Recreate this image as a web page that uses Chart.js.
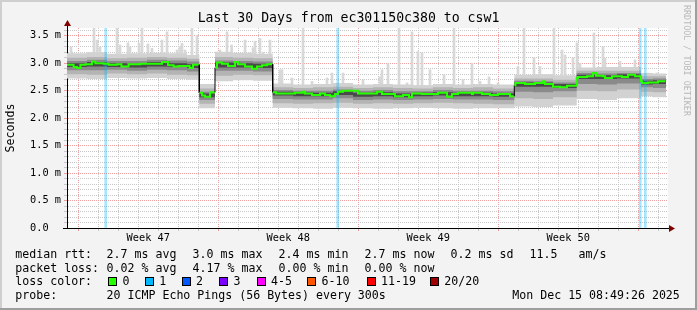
<!DOCTYPE html>
<html><head><meta charset="utf-8">
<script src="https://cdn.jsdelivr.net/npm/chart.js@4.4.1/dist/chart.umd.min.js"></script>
<style>
html,body{margin:0;padding:0;background:#f3f3f3;}
#wrap{position:relative;width:697px;height:310px;overflow:hidden;background:#f3f3f3;}
canvas{position:absolute;left:0;top:0;}
.t{position:absolute;font-family:'DejaVu Sans Mono',monospace;white-space:pre;color:#000;line-height:14px;font-size:11.6px;}
.sq{position:absolute;width:7px;height:7px;border:1px solid #000;}
#title{position:absolute;left:0;top:10px;width:697px;text-align:center;font-family:'DejaVu Sans Mono',monospace;font-size:13.2px;line-height:16px;white-space:pre;}
#wm{position:absolute;left:682px;top:5px;writing-mode:vertical-rl;font-family:'DejaVu Sans Mono',monospace;font-size:8.4px;line-height:10px;color:#b8b8b8;white-space:pre;}
</style></head><body>
<div id="wrap"><canvas id="c" width="697" height="310"></canvas>
<div id="title">Last 30 Days from ec301150c380 to csw1</div>
<div id="wm">RRDTOOL / TOBI OETIKER</div>
</div>
<script>
// ---- data (days since start of the 30-day window, values in ms) ----
const medX = [0,0.33,0.5,0.67,0.92,1.25,1.42,1.83,2.08,2.5,2.72,3.08,3.67,4.75,5.05,5.33,5.58,6.13,6.3,
  6.615,6.75,6.9,7.15,
  7.4,7.5,7.75,8.05,8.4,8.55,8.9,9.25,9.5,9.75,10.0,
  10.285,10.45,11.4,11.8,11.9,12.25,12.65,12.9,13.15,13.4,13.55,13.8,14.55,15.5,15.75,16.4,16.8,17.1,17.25,17.75,18.55,19.0,19.25,19.55,20.25,20.3,20.75,21.15,21.55,22.15,
  22.365,22.42,22.9,23.4,23.8,23.9,24.3,24.65,25.0,
  25.485,25.55,26.0,26.3,26.45,26.8,26.9,27.25,27.75,28.05,28.4,
  28.7,28.75,29.05,29.55];
const medV = [2.97,2.93,2.91,2.97,2.98,3.03,3.00,2.99,2.97,2.98,2.94,2.98,2.99,3.02,2.96,2.94,2.95,2.91,2.97,
  2.46,2.41,2.39,2.47,
  2.92,3.01,2.99,2.95,3.02,2.98,2.94,2.90,2.94,2.96,2.98,
  2.47,2.45,2.46,2.48,2.45,2.42,2.45,2.42,2.40,2.44,2.48,2.50,2.45,2.48,2.44,2.40,2.42,2.38,2.45,2.44,2.46,2.39,2.44,2.46,2.44,2.46,2.44,2.42,2.44,2.40,
  2.60,2.64,2.62,2.64,2.67,2.62,2.57,2.56,2.59,
  2.73,2.75,2.76,2.82,2.77,2.76,2.73,2.76,2.75,2.79,2.76,
  2.67,2.64,2.65,2.67];
const medEnd = 29.925;

// smoke layers (outer L1 ... core L4), upper and lower edges
const smokeX = [0,1,2,3,4,5,6,6.615,7.4,8.3,9.3,10.285,11.3,12.3,13.3,14.3,15.3,16.3,17.3,18.3,19.3,20.3,21.3,22.365,23.3,24.3,25.485,26.5,27.5,28.7,29.3,29.95];
const l1Hi = [3.18,3.20,3.17,3.18,3.19,3.18,3.15, 2.62, 3.21,3.19,3.17, 2.63,2.61,2.62,2.64,2.61,2.62,2.61,2.60,2.62,2.61,2.62,2.61, 2.79,2.80,2.78, 2.92,2.93,2.93, 2.82,2.81,2.81];
const l1Lo = [2.72,2.71,2.73,2.72,2.73,2.71,2.70, 2.18, 2.67,2.69,2.68, 2.19,2.18,2.17,2.19,2.18,2.17,2.18,2.19,2.18,2.17,2.18,2.18, 2.21,2.20,2.23, 2.35,2.33,2.36, 2.40,2.38,2.38];
const l2Hi = [3.10,3.11,3.09,3.10,3.11,3.10,3.08, 2.54, 3.11,3.10,3.09, 2.56,2.55,2.56,2.57,2.55,2.56,2.55,2.54,2.56,2.55,2.56,2.54, 2.72,2.72,2.70, 2.86,2.86,2.86, 2.76,2.76,2.76];
const l2Lo = [2.80,2.79,2.81,2.80,2.81,2.79,2.78, 2.26, 2.77,2.79,2.78, 2.27,2.26,2.27,2.28,2.26,2.27,2.26,2.27,2.28,2.27,2.26,2.25, 2.36,2.35,2.38, 2.50,2.49,2.52, 2.48,2.47,2.47];
const l3Hi = [3.04,3.06,3.04,3.04,3.06,3.05,3.03, 2.48, 3.05,3.04,3.03, 2.51,2.50,2.50,2.52,2.50,2.51,2.49,2.49,2.51,2.50,2.50,2.49, 2.68,2.67,2.65, 2.82,2.81,2.82, 2.71,2.72,2.72];
const l3Lo = [2.87,2.87,2.88,2.86,2.88,2.87,2.85, 2.33, 2.86,2.86,2.85, 2.35,2.34,2.34,2.36,2.33,2.34,2.33,2.34,2.35,2.34,2.34,2.33, 2.48,2.47,2.49, 2.62,2.61,2.63, 2.56,2.55,2.55];
const l4Hi = [3.00,3.02,3.00,2.99,3.02,3.00,2.98, 2.45, 3.01,3.00,2.99, 2.48,2.47,2.46,2.49,2.46,2.47,2.45,2.46,2.47,2.46,2.46,2.45, 2.65,2.65,2.62, 2.79,2.78,2.80, 2.68,2.69,2.69];
const l4Lo = [2.93,2.94,2.93,2.92,2.94,2.93,2.91, 2.38, 2.92,2.92,2.91, 2.41,2.40,2.40,2.42,2.39,2.40,2.38,2.40,2.41,2.40,2.40,2.39, 2.57,2.57,2.55, 2.71,2.71,2.72, 2.61,2.62,2.62];

// single-interval outliers (light grey spikes)
const spikeX  = [0.2,0.25,1.35,1.5,1.65,1.75,2.5,2.65,3.05,3.15,3.6,3.75,4.05,4.25,4.75,5.0,5.5,5.65,5.75,5.9,6.25,6.5,
  7.65,8.0,8.23,8.9,9.3,9.4,9.65,9.8,10.15,
  10.65,10.75,11.25,11.8,12.25,13.0,13.25,13.8,14.8,15.65,15.75,16.05,16.6,17.0,17.25,17.55,17.75,18.15,18.85,19.35,19.8,20.25,20.65,21.1,21.55,
  22.55,22.85,23.35,23.65,24.35,24.75,24.9,25.3,
  25.5,25.65,26.35,26.8,26.9,27.65,28.4,29.05,29.5];
const spikeHi = [3.30,3.18,3.65,3.42,3.30,3.18,3.64,3.33,3.37,3.30,3.36,3.64,3.35,3.27,3.42,3.57,3.24,3.30,3.36,3.24,3.64,3.51,
  3.24,3.57,3.33,3.42,3.28,3.40,3.45,3.20,3.42,
  2.88,2.88,2.73,3.66,2.67,2.73,2.82,2.82,2.70,2.75,2.88,3.00,3.67,2.64,3.57,3.21,3.19,2.88,2.79,3.67,2.70,3.00,2.67,2.75,2.64,
  2.94,3.67,3.10,2.94,3.67,3.24,3.15,3.10,
  3.37,3.00,3.55,3.30,3.09,3.03,3.06,2.82,2.82];
const spikeLo = [2.95,2.95,3.00,3.00,3.00,3.00,2.98,2.98,2.98,2.98,2.99,2.99,2.99,2.99,3.00,3.00,2.95,2.95,2.95,2.95,2.95,2.95,
  2.98,2.97,2.97,2.94,2.92,2.92,2.94,2.94,2.96,
  2.45,2.45,2.46,2.47,2.42,2.42,2.42,2.50,2.45,2.45,2.44,2.40,2.42,2.42,2.44,2.44,2.44,2.46,2.45,2.44,2.46,2.44,2.44,2.43,2.44,
  2.62,2.62,2.63,2.64,2.58,2.57,2.57,2.59,
  2.74,2.75,2.78,2.75,2.73,2.75,2.77,2.65,2.66];

const lossX = [1.935,13.535,28.665,28.915];

const weekPos = [4.065,11.065,18.065,25.065];
const weekLabels = ['Week 47','Week 48','Week 49','Week 50'];
const yLabels = ['0.0  ','0.5 m','1.0 m','1.5 m','2.0 m','2.5 m','3.0 m','3.5 m'];
const dayGridStart = 0.565;

const statMedian = ['2.7 ms avg','3.0 ms max','2.4 ms min','2.7 ms now','0.2 ms sd','11.5','am/s'];
const statLoss = ['0.02 % avg','4.17 % max','0.00 % min','0.00 % now'];
const lossLabels = ['0','1','2','3','4-5','6-10','11-19','20/20'];
const lossColors = ['#26ff00','#00b8ff','#0059ff','#7e00ff','#ff00ff','#ff5500','#ff0000','#a10000'];
const probeText = '20 ICMP Echo Pings (56 Bytes) every 300s';
const dateText = 'Mon Dec 15 08:49:26 2025';

// ---- layout / styles ----
const MONO = "'DejaVu Sans Mono', monospace";
const GRID_MIN = '#c8c8c8', GRID_MAJ = '#eea0a0';
const X_MAX = 30.05, Y_MAX = 3.64;

// ---- build datasets ----
const pts = (xs, ys) => xs.map((x,i)=>({x, y: ys[i]}));
const band = (hi, lo, color, ord) => [
  {type:'line', data: pts(smokeX, hi), stepped:true, fill:'+1', backgroundColor:color, borderWidth:0, pointRadius:0, order:ord},
  {type:'line', data: pts(smokeX, lo), stepped:true, fill:false, borderWidth:0, pointRadius:0, order:ord}
];
const medPts = [];
medX.forEach((x,i)=>{ const x1 = i+1<medX.length ? medX[i+1] : medEnd; medPts.push({x, y:medV[i]}, {x:x1, y:medV[i]}); });
const bigJump = c => c.p0.parsed.x === c.p1.parsed.x && Math.abs(c.p0.parsed.y - c.p1.parsed.y) > 0.15;

const datasets = [
  {type:'line', data: medPts, borderColor:'#26ff00', borderWidth:2, pointRadius:0, fill:false, order:1,
   segment:{borderColor: c => bigJump(c) ? '#000' : undefined, borderWidth: c => bigJump(c) ? 1 : undefined}},
  {type:'bar', data: lossX.map(x=>({x, y:[0, Y_MAX]})), backgroundColor:'rgba(0,184,255,0.35)', barThickness:2, grouped:false, order:3},
  ...band(l4Hi, l4Lo, '#4a4a4a', 4),
  ...band(l3Hi, l3Lo, '#8a8a8a', 5),
  ...band(l2Hi, l2Lo, '#b4b4b4', 6),
  ...band(l1Hi, l1Lo, '#d2d2d2', 7),
  {type:'bar', data: spikeX.map((x,i)=>({x, y:[spikeLo[i], spikeHi[i]]})), backgroundColor:'#d8d8d8', barThickness:2, grouped:false, order:9}
];

const isWeek = v => weekPos.some(w => Math.abs(w - v) < 1e-6);

const framePlugin = {
  id:'frame',
  beforeDraw(chart){
    const c = chart.ctx, a = chart.chartArea;
    c.save();
    c.fillStyle = '#f3f3f3'; c.fillRect(0,0,chart.width,chart.height);
    c.fillStyle = '#cfcfcf'; c.fillRect(0,0,chart.width,2); c.fillRect(0,0,2,chart.height);
    c.fillStyle = '#9e9e9e'; c.fillRect(0,chart.height-2,chart.width,2); c.fillRect(chart.width-2,0,2,chart.height);
    c.fillStyle = '#ffffff'; c.fillRect(a.left, a.top, a.right-a.left, a.bottom-a.top);
    c.restore();
  },
  afterDraw(chart){
    const c = chart.ctx, a = chart.chartArea;
    const x0 = chart.scales.x.getPixelForValue(0), y0 = chart.scales.y.getPixelForValue(0);
    c.save();
    c.fillStyle = '#000';
    c.fillRect(Math.round(x0), Math.round(a.top)-3, 1, 3);
    c.fillRect(Math.round(x0)-4, Math.round(y0), 4, 1);
    c.fillRect(Math.round(a.right), Math.round(y0), 2, 1);
    c.fillStyle = '#800000';
    const ax = Math.round(x0)+0.5, ay = Math.round(a.top)-7;
    c.beginPath(); c.moveTo(ax, ay-1); c.lineTo(ax-3.5, ay+5); c.lineTo(ax+3.5, ay+5); c.closePath(); c.fill();
    const bx = Math.round(a.right)+1, by = Math.round(y0)+0.5;
    c.beginPath(); c.moveTo(bx+6, by); c.lineTo(bx, by-3.5); c.lineTo(bx, by+3.5); c.closePath(); c.fill();
    c.restore();
  }
};

new Chart(document.getElementById('c'), {
  type:'line',
  data:{datasets},
  options:{
    responsive:false, animation:false, devicePixelRatio:1,
    layout:{padding:{left:0, right:29, top:28, bottom:62}},
    plugins:{legend:{display:false}, tooltip:{enabled:false}, title:{display:false}},
    scales:{
      x:{type:'linear', min:0, max:X_MAX, offset:false,
        afterFit(s){ s.height = 20; },
        afterBuildTicks(s){
          const t = [];
          for (let k=0;k<30;k++) t.push({value: dayGridStart + k});
          weekPos.forEach(v=>t.push({value:v}));
          t.sort((p,q)=>p.value-q.value);
          s.ticks = t;
        },
        ticks:{autoSkip:false, maxRotation:0, padding:1, color:'#000', font:{family:MONO, size:10.3},
          callback:(v)=>{ const i = weekPos.findIndex(w=>Math.abs(w-v)<1e-6); return i>=0 ? weekLabels[i] : ''; }},
        grid:{offset:false, lineWidth:1, tickLength:3,
          color:c=>{ const v=c.tick.value; if (isWeek(v)) return 'rgba(0,0,0,0)'; const k=Math.round(v-dayGridStart); return k%7===0?GRID_MAJ:GRID_MIN; },
          tickColor:c=>{ const v=c.tick.value; if (isWeek(v)) return 'rgba(0,0,0,0)'; const k=Math.round(v-dayGridStart); return k%7===0?GRID_MAJ:GRID_MIN; }},
        border:{color:'#000', width:1, dash:[1,1]}
      },
      y:{type:'linear', min:0, max:Y_MAX,
        afterFit(s){ s.width = 67; },
        afterBuildTicks(s){ s.ticks = Array.from({length:37},(_,i)=>({value:i/10})); },
        ticks:{autoSkip:false, padding:3, color:'#000', font:{family:MONO, size:10.3},
          callback:(v,i)=> i%5===0 ? yLabels[i/5] : ''},
        grid:{lineWidth:1, tickLength:3,
          color:c=> c.index%5===0 ? GRID_MAJ : GRID_MIN,
          tickColor:c=> c.index%5===0 ? GRID_MAJ : GRID_MIN},
        border:{color:'#000', width:1, dash:[1,1]},
        title:{display:true, text:'Seconds', color:'#000', font:{family:MONO, size:11.6, lineHeight:1.2}, padding:{top:4, bottom:0}}
      }
    }
  },
  plugins:[framePlugin]
});

// ---- legend text (HTML) ----
const wrap = document.getElementById('wrap');
function txt(x, top, s){ const d=document.createElement('div'); d.className='t'; d.style.left=x+'px'; d.style.top=top+'px'; d.textContent=s; wrap.appendChild(d); }
const rowTop = [247.3, 260.8, 274.3, 288];
const colX = [106.6, 192.6, 278.6, 364.6, 450.6, 529.6, 578.6];
txt(15.3, rowTop[0], 'median rtt:');
statMedian.forEach((s,i)=>txt(colX[i], rowTop[0], s));
txt(15.3, rowTop[1], 'packet loss:');
statLoss.forEach((s,i)=>txt(colX[i], rowTop[1], s));
txt(15.3, rowTop[2], 'loss color:');
const sqX = [108.3,145,181.7,219.3,256.7,307.3,366.7,430];
lossLabels.forEach((s,i)=>{
  const q=document.createElement('div'); q.className='sq'; q.style.left=sqX[i]+'px'; q.style.top=(rowTop[2]+3)+'px'; q.style.background=lossColors[i]; wrap.appendChild(q);
  txt(sqX[i]+14.3, rowTop[2], s);
});
txt(15.3, rowTop[3], 'probe:');
txt(106.6, rowTop[3], probeText);
txt(512.3, rowTop[3], dateText);
</script>
</body></html>
